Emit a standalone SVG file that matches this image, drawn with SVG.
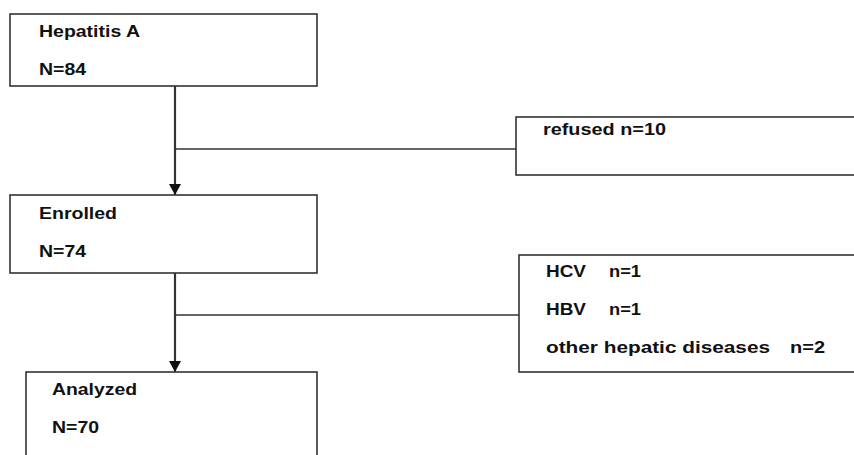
<svg xmlns="http://www.w3.org/2000/svg" width="854" height="455" viewBox="0 0 854 455">
<style>
.box{fill:#fff;stroke:#333;stroke-width:1.6}
.t{font-family:"Liberation Sans",Arial,sans-serif;font-weight:bold;font-size:16px;fill:#111}
.ln{stroke:#333;fill:none}
</style>
<defs>
<marker id="arr" markerWidth="12" markerHeight="12" refX="11" refY="6" orient="auto" markerUnits="userSpaceOnUse">
<path d="M0,0 L11,6 L0,12 z" fill="#111"/>
</marker>
</defs>
<rect width="854" height="455" fill="#fff"/>
<g id="connectors">
<line class="ln" x1="175" y1="86" x2="175" y2="195" stroke-width="2.2" marker-end="url(#arr)"/>
<line class="ln" x1="175" y1="149" x2="516" y2="149" stroke-width="1.5"/>
<line class="ln" x1="175" y1="273" x2="175" y2="372" stroke-width="2.2" marker-end="url(#arr)"/>
<line class="ln" x1="175" y1="315" x2="519" y2="315" stroke-width="1.5"/>
</g>
<g id="hepatitis">
<rect class="box" x="10" y="14" width="307" height="72"/>
<text class="t" x="39" y="37" textLength="101" lengthAdjust="spacingAndGlyphs">Hepatitis A</text>
<text class="t" x="39" y="75" textLength="47" lengthAdjust="spacingAndGlyphs">N=84</text>
</g>
<g id="refused">
<rect class="box" x="516" y="117" width="350" height="58"/>
<text class="t" x="543" y="135" textLength="123" lengthAdjust="spacingAndGlyphs">refused n=10</text>
</g>
<g id="enrolled">
<rect class="box" x="10" y="195" width="307" height="78"/>
<text class="t" x="39" y="219" textLength="78" lengthAdjust="spacingAndGlyphs">Enrolled</text>
<text class="t" x="39" y="257" textLength="47" lengthAdjust="spacingAndGlyphs">N=74</text>
</g>
<g id="excluded">
<rect class="box" x="519" y="255" width="350" height="117"/>
<text class="t" x="546" y="277" textLength="40" lengthAdjust="spacingAndGlyphs">HCV</text>
<text class="t" x="609" y="277" textLength="32" lengthAdjust="spacingAndGlyphs">n=1</text>
<text class="t" x="546" y="315" textLength="40" lengthAdjust="spacingAndGlyphs">HBV</text>
<text class="t" x="609" y="315" textLength="32" lengthAdjust="spacingAndGlyphs">n=1</text>
<text class="t" x="546" y="353" textLength="224" lengthAdjust="spacingAndGlyphs">other hepatic diseases</text>
<text class="t" x="790" y="353" textLength="35" lengthAdjust="spacingAndGlyphs">n=2</text>
</g>
<g id="analyzed">
<rect class="box" x="26" y="372" width="291" height="100"/>
<text class="t" x="52" y="395" textLength="85" lengthAdjust="spacingAndGlyphs">Analyzed</text>
<text class="t" x="52" y="433" textLength="47" lengthAdjust="spacingAndGlyphs">N=70</text>
</g>
</svg>
